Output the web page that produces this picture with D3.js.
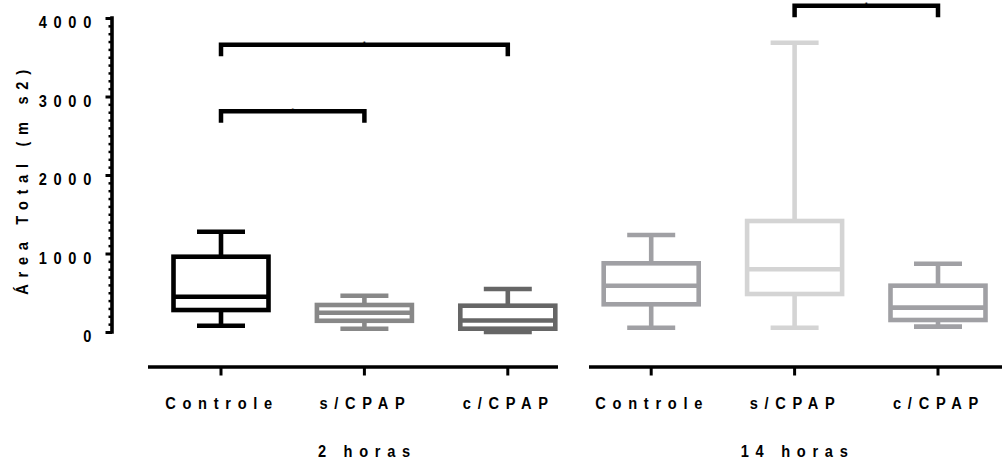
<!DOCTYPE html>
<html>
<head>
<meta charset="utf-8">
<script src="https://cdn.jsdelivr.net/npm/d3@7"></script>
<style>
  html, body { margin: 0; padding: 0; background: #fff; }
  svg { display: block; }
  text { font-family: "Liberation Sans", Arial, Helvetica, sans-serif; font-weight: bold; fill: #000; }
</style>
</head>
<body>
<svg id="chart" width="1002" height="464"></svg>
<script>
// Groups (time points) and conditions
const groups = ["2 horas", "14 horas"];
const conditions = ["Controle", "s/CPAP", "c/CPAP"];

// Box-and-whisker summaries per group, in condition order
const mins    = [[80, 42, 0],     [55, 55, 68]];
const q1s     = [[280, 143, 42],  [353, 484, 153]];
const medians = [[450, 246, 146], [590, 799, 310]];
const q3s     = [[959, 344, 335], [875, 1414, 590]];
const maxs    = [[1278, 462, 548],[1236, 3684, 870]];

// Box colours per group, in condition order
const colors = [["#000000", "#888888", "#666666"], ["#a0a0a4", "#d4d4d4", "#a0a0a4"]];

// Significance brackets: [group, condition from, condition to, height]
const brackets = [
  [0, 0, 2, 3660],
  [0, 0, 1, 2812],
  [1, 1, 2, 4155]
];

// Y axis
const yTicks = [0, 1000, 2000, 3000, 4000];
const yMinorStep = 100;
const yTitle = "Área Total (m s2)";

const svg = d3.select("#chart");

const y = d3.scaleLinear().domain([0, 4000]).range([332, 18]);

// All six boxes share one point scale; keys are "group|condition"
const keys = [];
groups.forEach(g => conditions.forEach(c => keys.push(g + "|" + c)));
const x = d3.scalePoint().domain(keys).range([221, 938]);
const key = (gi, ci) => groups[gi] + "|" + conditions[ci];

const boxHalf = 47.5, capHalf = 24, sw = 4.6;

// Slightly condensed, widely tracked bold labels
const squeeze = 0.86;
function label(sel, tx, ty, str, anchor, rot) {
  return sel.append("text")
    .attr("transform", `translate(${tx},${ty})` + (rot ? ` rotate(${rot})` : "") + ` scale(${squeeze},1)`)
    .attr("text-anchor", anchor)
    .style("font-size", "17px").style("letter-spacing", "7.8px")
    .text(str);
}

// ---- boxes ----
groups.forEach((g, gi) => {
  conditions.forEach((c, ci) => {
    const cx = x(key(gi, ci));
    const col = colors[gi][ci];
    const b = svg.append("g").attr("stroke", col).attr("stroke-width", sw).attr("fill", "none");
    // whiskers
    b.append("line").attr("x1", cx).attr("x2", cx).attr("y1", y(q3s[gi][ci])).attr("y2", y(maxs[gi][ci]));
    b.append("line").attr("x1", cx).attr("x2", cx).attr("y1", y(q1s[gi][ci])).attr("y2", y(mins[gi][ci]));
    // caps
    b.append("line").attr("x1", cx - capHalf).attr("x2", cx + capHalf).attr("y1", y(maxs[gi][ci])).attr("y2", y(maxs[gi][ci]));
    b.append("line").attr("x1", cx - capHalf).attr("x2", cx + capHalf).attr("y1", y(mins[gi][ci])).attr("y2", y(mins[gi][ci]));
    // box
    b.append("rect")
      .attr("x", cx - boxHalf).attr("width", boxHalf * 2)
      .attr("y", y(q3s[gi][ci])).attr("height", y(q1s[gi][ci]) - y(q3s[gi][ci]))
      .attr("fill", "#fff");
    // median
    b.append("line").attr("x1", cx - boxHalf).attr("x2", cx + boxHalf).attr("y1", y(medians[gi][ci])).attr("y2", y(medians[gi][ci]));
  });
});

// ---- significance brackets ----
const legLen = 11.5;
brackets.forEach(([gi, a, bIdx, h]) => {
  const xa = x(key(gi, a)), xb = x(key(gi, bIdx)), yy = y(h);
  svg.append("path")
    .attr("d", `M${xa},${yy + legLen}V${yy}H${xb}V${yy + legLen}`)
    .attr("fill", "none").attr("stroke", "#000").attr("stroke-width", 4.5)
    .attr("stroke-linejoin", "miter").attr("stroke-linecap", "butt");
  svg.append("text")
    .attr("x", (xa + xb) / 2).attr("y", yy + 1.5)
    .attr("text-anchor", "middle")
    .style("font-size", "8px").style("font-weight", "normal")
    .text("*");
});

// ---- y axis ----
const yAxisX = 112;
const yAxis = svg.append("g").attr("transform", `translate(${yAxisX},0)`);
const minorTicks = d3.range(0, 4000 + 1, yMinorStep).filter(v => !yTicks.includes(v));
yAxis.append("g").call(
  d3.axisLeft(y).tickValues(minorTicks).tickSize(3.5).tickSizeOuter(0).tickFormat("")
).call(g => g.select(".domain").remove())
 .selectAll("line").attr("stroke", "#000").attr("stroke-width", 2.5);
yAxis.append("g").call(
  d3.axisLeft(y).tickValues(yTicks).tickSize(6.5).tickSizeOuter(0).tickFormat("")
).call(g => g.select(".domain").attr("stroke", "#000").attr("stroke-width", 3.6)
  .attr("d", `M0,${y(0) + 1.8}V${y(4000) - 1.8}`))
 .selectAll("line").attr("stroke", "#000").attr("stroke-width", 3);

const yLab = svg.append("g");
yTicks.forEach(d => label(yLab, 98, y(d) + 10, d, "end"));

label(svg, 28, y(2000) + 4, yTitle, "middle", -90);

// ---- x axes (one broken segment per group) ----
const segs = [[148, 558], [589, 1002]];
const axisY = 367;
groups.forEach((g, gi) => {
  const gg = svg.append("g");
  gg.append("line").attr("x1", segs[gi][0]).attr("x2", segs[gi][1])
    .attr("y1", axisY).attr("y2", axisY)
    .attr("stroke", "#000").attr("stroke-width", 3.6);
  conditions.forEach((c, ci) => {
    const cx = x(key(gi, ci));
    gg.append("line").attr("x1", cx).attr("x2", cx).attr("y1", axisY).attr("y2", axisY + 8.5)
      .attr("stroke", "#000").attr("stroke-width", 3);
    label(gg, cx + 1, 409, c, "middle");
  });
  label(gg, x(key(gi, 1)) + 3, 456.5, g, "middle");
});
</script>
</body>
</html>
